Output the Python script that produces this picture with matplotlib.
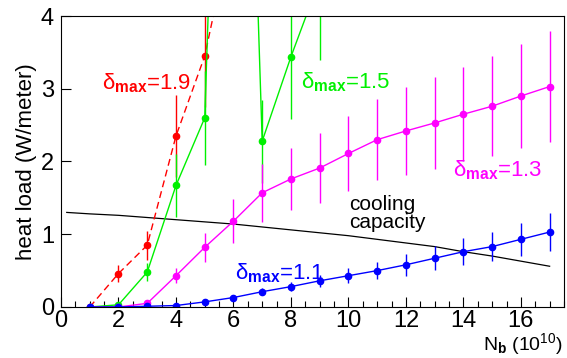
"""Heat load versus bunch population for several delta_max values."""
import matplotlib
matplotlib.use("Agg")
import matplotlib.pyplot as plt
from matplotlib.ticker import MultipleLocator

plt.rcParams["font.family"] = ["Liberation Sans", "DejaVu Sans"]
plt.rcParams["mathtext.fontset"] = "custom"
plt.rcParams["mathtext.rm"] = "Liberation Sans"
plt.rcParams["mathtext.bf"] = "Liberation Sans:bold"
plt.rcParams["mathtext.it"] = "Liberation Sans:italic"

# bunch population (1e10)
nb = [1, 2, 3, 4, 5, 6, 7, 8, 9, 10, 11, 12, 13, 14, 15, 16, 17]

# delta_max = 1.1
load_11 = [0.0, 0.0, 0.01, 0.02, 0.07, 0.13, 0.21, 0.28, 0.36, 0.43, 0.50,
           0.58, 0.67, 0.76, 0.83, 0.93, 1.03]
err_11 = [0.0, 0.0, 0.01, 0.02, 0.03, 0.04, 0.05, 0.065, 0.08, 0.10, 0.12,
          0.15, 0.165, 0.185, 0.20, 0.23, 0.26]

# delta_max = 1.3
load_13 = [0.0, 0.0, 0.05, 0.43, 0.82, 1.18, 1.57, 1.76, 1.91, 2.11, 2.30,
           2.42, 2.53, 2.65, 2.76, 2.90, 3.03]
err_13 = [0.0, 0.0, 0.02, 0.10, 0.20, 0.30, 0.40, 0.43, 0.48, 0.52, 0.56,
          0.60, 0.63, 0.65, 0.69, 0.72, 0.76]

# delta_max = 1.5
nb_15 = [1, 2, 3, 4, 5, 6, 7, 8, 9]
load_15 = [0.0, 0.03, 0.48, 1.67, 2.60, 14.5, 2.28, 3.44, 4.5]
err_15 = [0.0, 0.0, 0.12, 0.43, 0.65, 0.0, 0.57, 0.86, 1.1]

# delta_max = 1.9
nb_19 = [1, 2, 3, 4, 5, 6]
load_19 = [0.0, 0.46, 0.85, 2.35, 3.45, 5.3]
err_19 = [0.0, 0.12, 0.20, 0.57, 0.70, 0.0]

# cooling capacity
nb_cool = [0.2, 1, 2, 3, 4, 5, 6, 7, 8, 9, 10, 11, 12, 13, 14, 15, 16, 17]
cooling = [1.30, 1.28, 1.26, 1.23, 1.20, 1.17, 1.14, 1.10, 1.06, 1.02, 0.98,
           0.93, 0.88, 0.83, 0.76, 0.70, 0.63, 0.56]

RED = "#ff0000"
GREEN = "#00f000"
MAGENTA = "#ff00ff"
BLUE = "#0000ff"

fig = plt.figure(figsize=(5.67, 3.58), dpi=100)
ax = fig.add_axes([0.1076, 0.1425, 0.8871, 0.8128])

ax.plot(nb_cool, cooling, color="black", lw=0.9)

series = [
    (nb_19, load_19, err_19, RED, (0, (5, 3))),
    (nb_15, load_15, err_15, GREEN, "-"),
    (nb, load_13, err_13, MAGENTA, "-"),
    (nb, load_11, err_11, BLUE, "-"),
]
for x, y, err, color, ls in series:
    ax.errorbar(x, y, yerr=err, fmt="o", ls=ls, color=color, ms=4.5,
                lw=1.0, elinewidth=1.0, capsize=0)

label_kw = dict(fontsize=16, ha="left", va="center")
ax.text(1.43, 3.08, r"δ$_{\mathbf{max}}$=1.9", color=RED, **label_kw)
ax.text(8.35, 3.09, r"δ$_{\mathbf{max}}$=1.5", color=GREEN, **label_kw)
ax.text(13.64, 1.88, r"δ$_{\mathbf{max}}$=1.3", color=MAGENTA, **label_kw)
ax.text(6.05, 0.47, r"δ$_{\mathbf{max}}$=1.1", color=BLUE, **label_kw)
ax.text(10.02, 1.29, "cooling\ncapacity", color="black", fontsize=15,
        ha="left", va="center", linespacing=0.95)

ax.set_xlim(0, 17.5)
ax.set_ylim(0, 4)
ax.xaxis.set_major_locator(MultipleLocator(2))
ax.xaxis.set_minor_locator(MultipleLocator(0.5))
ax.yaxis.set_major_locator(MultipleLocator(1))
ax.tick_params(axis="both", which="major", direction="in", length=7,
               width=0.8, labelsize=17)
ax.tick_params(axis="x", which="minor", direction="in", length=4, width=0.8)
ax.tick_params(axis="x", pad=2)
ax.tick_params(axis="y", pad=5)

ax.set_ylabel("heat load (W/meter)", fontsize=16, labelpad=3)
fig.text(0.993, 0.004, r"N$_{\mathbf{b}}$ (10$^{10}$)", fontsize=14,
         ha="right", va="bottom")

fig.savefig("out.png", dpi=100)
